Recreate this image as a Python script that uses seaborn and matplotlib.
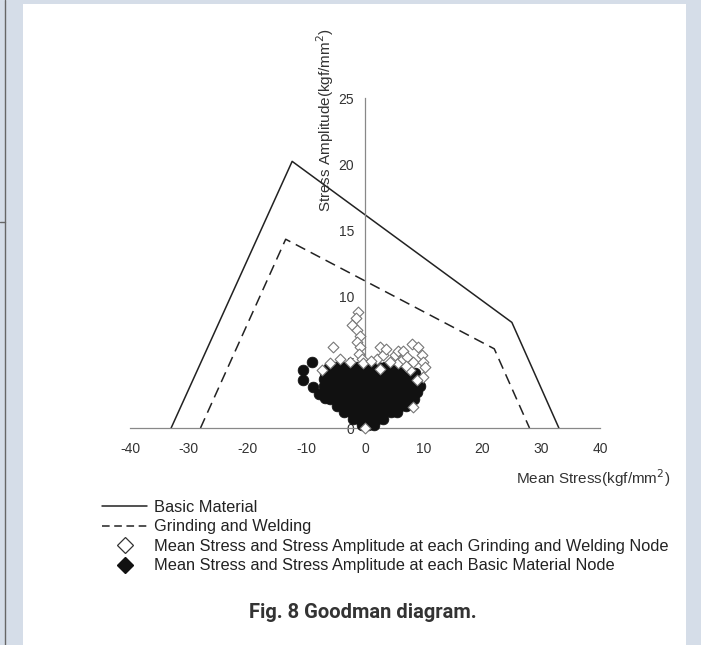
import matplotlib
matplotlib.use("Agg")
import matplotlib.pyplot as plt
import seaborn as sns
from matplotlib.lines import Line2D
from matplotlib.patches import Rectangle

# Goodman lines (mean stress, stress amplitude), kgf/mm^2
basic_x = [-33, -12.4, 25, 33]
basic_y = [0, 20.2, 8.0, 0]
weld_x = [-28, -13.5, 22, 28]
weld_y = [0, 14.3, 6.0, 0]

# grinding & welding nodes (open diamonds)
weld_node_x = [-1.2, -1.6, -2.2, -1.4, -0.9, -1.3, -0.8, -1.0, -0.5, -5.4, -7.3, -4.3,
               -2.6, -0.3, 2.0, 2.6, 3.0, 2.6, 3.6, 5.1, 5.6, 5.6, 6.5, 6.5, 7.2, 8.0,
               8.2, 9.0, 9.7, 9.9, 10.2, 9.9, 8.9, 7.6, 8.2, 0.0, 4.2, 7.0, -6.0, 1.0]
weld_node_y = [8.8, 8.3, 7.8, 7.4, 7.0, 6.5, 6.1, 5.6, 5.2, 6.1, 4.4, 5.2,
               5.0, 4.9, 5.2, 6.1, 5.5, 4.5, 6.0, 5.5, 5.8, 4.9, 5.2, 5.8, 5.4, 6.4,
               5.0, 6.1, 5.5, 5.0, 4.6, 3.9, 3.6, 4.4, 1.6, 0.0, 5.0, 4.7, 4.9, 5.1]

# basic material nodes (filled), read row by row off the dense cloud
basic_node_x = [-0.5, 0.5, 1.5,
                -2.0, -1.0, 0.0, 1.0, 2.0, 3.0,
                -3.5, -2.3, -1.1, 0.0, 1.1, 2.2, 3.3, 4.4, 5.4,
                -4.8, -3.6, -2.4, -1.2, 0.0, 1.2, 2.4, 3.6, 4.8, 6.0, 7.0,
                -6.0, -4.8, -3.6, -2.4, -1.2, 0.0, 1.2, 2.4, 3.6, 4.8, 6.0, 7.2, 8.3,
                -6.6, -5.4, -4.2, -3.0, -1.8, -0.6, 0.6, 1.8, 3.0, 4.2, 5.4, 6.6, 7.8, 8.8,
                -6.9, -5.7, -4.5, -3.3, -2.1, -0.9, 0.3, 1.5, 2.7, 3.9, 5.1, 6.3, 7.5, 8.7, 9.4,
                -7.0, -5.8, -4.6, -3.4, -2.2, -1.0, 0.2, 1.4, 2.6, 3.8, 5.0, 6.2, 7.4, 8.6, 9.2,
                -6.8, -5.6, -4.4, -3.2, -2.0, -0.8, 0.4, 1.6, 2.8, 4.0, 5.2, 6.4, 7.6, 8.5,
                -6.2, -5.0, -3.8, -2.6, -1.4, -0.2, 1.0, 2.2, 3.4, 4.6, 5.8, 7.0,
                -10.5, -9.0, -10.6, -8.9, -6.8, -7.8]
basic_node_y = [0.2, 0.2, 0.2,
                0.7, 0.7, 0.7, 0.7, 0.7, 0.7,
                1.2, 1.2, 1.2, 1.2, 1.2, 1.2, 1.2, 1.2, 1.2,
                1.7, 1.7, 1.7, 1.7, 1.7, 1.7, 1.7, 1.7, 1.7, 1.7, 1.7,
                2.2, 2.2, 2.2, 2.2, 2.2, 2.2, 2.2, 2.2, 2.2, 2.2, 2.2, 2.2, 2.2,
                2.7, 2.7, 2.7, 2.7, 2.7, 2.7, 2.7, 2.7, 2.7, 2.7, 2.7, 2.7, 2.7, 2.7,
                3.2, 3.2, 3.2, 3.2, 3.2, 3.2, 3.2, 3.2, 3.2, 3.2, 3.2, 3.2, 3.2, 3.2, 3.2,
                3.7, 3.7, 3.7, 3.7, 3.7, 3.7, 3.7, 3.7, 3.7, 3.7, 3.7, 3.7, 3.7, 3.7, 3.7,
                4.2, 4.2, 4.2, 4.2, 4.2, 4.2, 4.2, 4.2, 4.2, 4.2, 4.2, 4.2, 4.2, 4.2,
                4.6, 4.6, 4.6, 4.6, 4.6, 4.6, 4.6, 4.6, 4.6, 4.6, 4.6, 4.6,
                4.4, 5.0, 3.6, 3.1, 2.3, 2.6]

x_ticks = [-40, -30, -20, -10, 0, 10, 20, 30, 40]
y_ticks = [0, 5, 10, 15, 20, 25]

sns.set_style("white")
plt.rcParams["font.family"] = ["Liberation Sans", "DejaVu Sans"]
plt.rcParams["axes.unicode_minus"] = False

W, H = 701, 645
fig = plt.figure(figsize=(W / 100, H / 100), dpi=100)
fig.patch.set_facecolor("#d5dde8")
fig.add_artist(Rectangle((23 / W, 0), (686 - 23) / W, (H - 4) / H, zorder=-10,
                         transform=fig.transFigure, facecolor="white", edgecolor="none"))
fig.add_artist(Line2D([5 / W, 5 / W], [0, 1], transform=fig.transFigure, color="#666", lw=1))
fig.add_artist(Line2D([0, 5 / W], [1 - 222 / H, 1 - 222 / H], transform=fig.transFigure,
                      color="#666", lw=1))

ax = fig.add_axes([130 / W, (H - 428) / H, 470 / W, 330 / H])
ax.set_facecolor("none")

sns.lineplot(x=basic_x, y=basic_y, sort=False, estimator=None, color="#222", lw=1.1, ax=ax)
sns.lineplot(x=weld_x, y=weld_y, sort=False, estimator=None, color="#222", lw=1.1, ax=ax)
ax.lines[-1].set_dashes((7, 4))

sns.scatterplot(x=basic_node_x, y=basic_node_y, marker="o", s=60, color="#111",
                edgecolor="#111", linewidth=0.5, zorder=3, clip_on=False, ax=ax)
sns.scatterplot(x=weld_node_x, y=weld_node_y, marker="D", s=30, facecolor="white",
                edgecolor="#777", linewidth=0.8, zorder=4, clip_on=False, ax=ax)

ax.set_xlim(-40, 40)
ax.set_ylim(0, 25)
for s in ["top", "right"]:
    ax.spines[s].set_visible(False)
ax.spines["left"].set_position(("data", 0))
ax.spines["left"].set_bounds(0, 25)
ax.spines["bottom"].set_bounds(-40, 40)
for s in ["left", "bottom"]:
    ax.spines[s].set_color("#888")
    ax.spines[s].set_linewidth(0.9)
ax.set_xticks(x_ticks)
ax.set_yticks(y_ticks)
ax.tick_params(axis="x", direction="in", length=4, width=0.9, color="#888", pad=10,
               labelsize=10, labelcolor="#333")
ax.tick_params(axis="y", direction="out", length=4, width=0.9, color="#888", pad=4,
               labelsize=10, labelcolor="#333")
ax.set_xlabel("")
ax.set_ylabel("")

fig.text(325 / W, 1 - 120 / H, "Stress Amplitude(kgf/mm$^2$)", rotation=90,
         ha="center", va="center", fontsize=11, color="#333")
fig.text(593 / W, 1 - 478 / H, "Mean Stress(kgf/mm$^2$)", ha="center", va="center",
         fontsize=11, color="#333")

handles = [
    Line2D([], [], color="#222", lw=1.1),
    Line2D([], [], color="#222", lw=1.1, dashes=(5, 3)),
    Line2D([], [], ls="none", marker="D", markersize=8, markerfacecolor="white",
           markeredgecolor="#333", markeredgewidth=0.9),
    Line2D([], [], ls="none", marker="D", markersize=8, color="#111"),
]
labels = ["Basic Material", "Grinding and Welding",
          "Mean Stress and Stress Amplitude at each Grinding and Welding Node",
          "Mean Stress and Stress Amplitude at each Basic Material Node"]
fig.legend(handles, labels, loc="upper left", bbox_to_anchor=(102 / W, 1 - 500 / H),
           frameon=False, fontsize=11.8, handlelength=2.75, handletextpad=0.45,
           labelspacing=0.27, borderpad=0, borderaxespad=0, labelcolor="#222")

fig.text(363 / W, 1 - 612 / H, "Fig. 8 Goodman diagram.", ha="center", va="center",
         fontsize=14.5, fontweight="bold", color="#333", family=["Roboto", "DejaVu Sans"])

fig.savefig("out.png", dpi=100, facecolor=fig.get_facecolor())
